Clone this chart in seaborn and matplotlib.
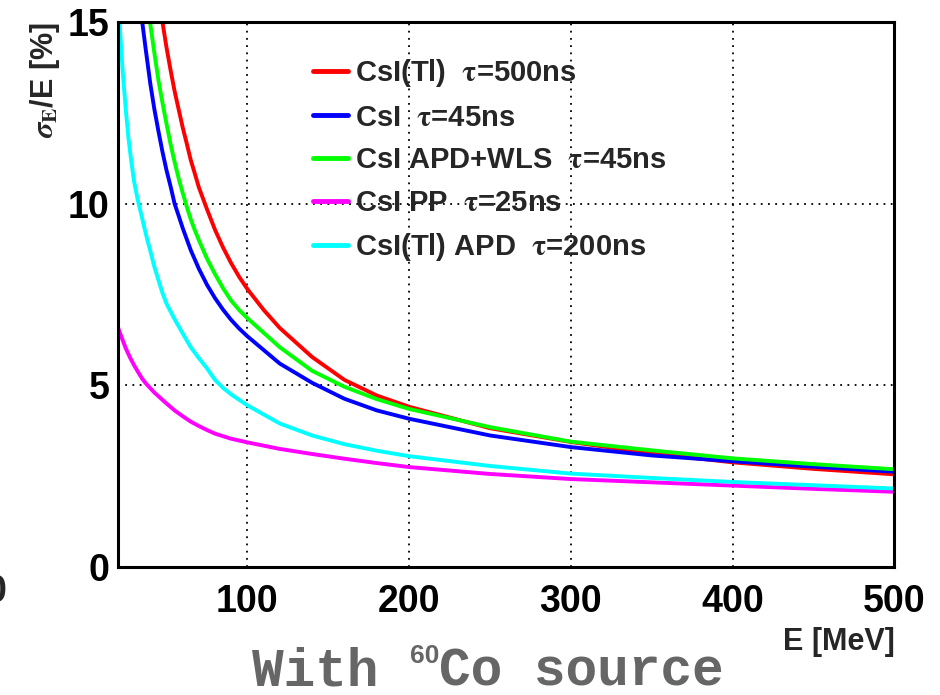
import matplotlib
matplotlib.use("Agg")
import matplotlib.pyplot as plt
from matplotlib.ticker import MultipleLocator
import pandas as pd
import seaborn as sns

# Energy resolution curves (E in MeV, sigma_E/E in %)
red_E = [47.5, 50, 52.5, 55, 57.5, 60, 62.5, 65, 67.5, 70, 75, 80, 85, 90, 95, 100, 110, 120,
         140, 160, 180, 200, 250, 300, 350, 400, 450, 500]
red_v = [15.0, 14.3, 13.68, 13.1, 12.6, 12.1, 11.66, 11.2, 10.83, 10.45, 9.85, 9.28, 8.79, 8.36, 7.98, 7.65, 7.08, 6.58,
         5.78, 5.15, 4.72, 4.41, 3.82, 3.44, 3.13, 2.88, 2.70, 2.55]

blue_E = [35, 37, 40, 42.5, 45, 47.5, 50, 52.5, 55, 57.5, 60, 65, 70, 75, 80, 85, 90, 95, 100,
          120, 140, 160, 180, 200, 250, 300, 350, 400, 450, 500]
blue_v = [15.0, 14.3, 13.3, 12.6, 12.0, 11.43, 10.92, 10.48, 10.0, 9.67, 9.33, 8.72, 8.21, 7.77, 7.4, 7.08, 6.8, 6.56, 6.35,
          5.6, 5.07, 4.63, 4.31, 4.08, 3.62, 3.30, 3.07, 2.91, 2.76, 2.62]

green_E = [39.8, 42, 45, 47.5, 50, 52.5, 55, 57.5, 60, 62.5, 65, 67.5, 70, 75, 80, 85, 90, 95, 100,
           110, 120, 140, 160, 180, 200, 250, 300, 350, 400, 450, 500]
green_v = [15.0, 14.3, 13.4, 12.78, 12.2, 11.64, 11.15, 10.7, 10.3, 9.92, 9.57, 9.27, 9.0, 8.49, 8.06, 7.67, 7.33, 7.07, 6.85,
           6.45, 6.05, 5.40, 4.96, 4.62, 4.35, 3.85, 3.45, 3.21, 2.99, 2.83, 2.69]

magenta_E = [20, 21, 22, 23.5, 25, 27.5, 30, 32.5, 35, 37.5, 40, 42.5, 45, 47.5, 50, 55, 60, 65, 70, 75, 80, 90, 100,
             120, 140, 160, 180, 200, 250, 300, 350, 400, 450, 500]
magenta_v = [6.6, 6.47, 6.35, 6.17, 6.0, 5.76, 5.55, 5.36, 5.18, 5.04, 4.92, 4.8, 4.7, 4.6, 4.5, 4.31, 4.15, 4.0, 3.88, 3.77, 3.67, 3.53, 3.43,
             3.25, 3.11, 2.98, 2.86, 2.75, 2.56, 2.42, 2.33, 2.24, 2.15, 2.07]

cyan_E = [21, 22, 23, 24, 25, 26.5, 28, 30, 32, 34.5, 36, 38, 40, 42.5, 45, 47.5, 50, 55, 60, 65, 70, 75, 80, 85, 90, 100,
          120, 140, 160, 180, 200, 250, 300, 350, 400, 450, 500]
cyan_v = [15.0, 14.27, 13.6, 13.04, 12.5, 11.8, 11.25, 10.6, 10.15, 9.68, 9.4, 9.03, 8.7, 8.26, 7.9, 7.54, 7.25, 6.82, 6.43, 6.05, 5.75, 5.47, 5.15, 4.93, 4.75, 4.45,
          3.95, 3.62, 3.38, 3.2, 3.05, 2.78, 2.57, 2.45, 2.34, 2.25, 2.16]

labels = [r"CsI(Tl)  $\mathrm{\tau}$=500ns",
          r"CsI  $\mathrm{\tau}$=45ns",
          r"CsI APD+WLS  $\mathrm{\tau}$=45ns",
          r"CsI PP  $\mathrm{\tau}$=25ns",
          r"CsI(Tl) APD  $\mathrm{\tau}$=200ns"]
colors = ["#ff0000", "#0000ff", "#00ff00", "#ff00ff", "#00ffff"]
series = [(red_E, red_v), (blue_E, blue_v), (green_E, green_v),
          (magenta_E, magenta_v), (cyan_E, cyan_v)]

sns.set_theme(style="white")
plt.rcParams["font.family"] = ["Liberation Sans", "DejaVu Sans"]
plt.rcParams["font.weight"] = "bold"
plt.rcParams["mathtext.fontset"] = "stix"

fig = plt.figure(figsize=(9.4, 6.95), dpi=100)
ax = fig.add_axes([0.1255, 0.1842, 0.826, 0.7841])

for (xs, ys), lab, col in zip(series, labels, colors):
    df = pd.DataFrame({"E": xs, "res": ys})
    sns.lineplot(data=df, x="E", y="res", ax=ax, color=col, linewidth=2.8,
                 label=lab, estimator=None, sort=False)

ax.set_xlim(20, 500)
ax.set_ylim(0, 15)
ax.xaxis.set_major_locator(MultipleLocator(100))
ax.xaxis.set_minor_locator(MultipleLocator(20))
ax.yaxis.set_major_locator(MultipleLocator(5))
ax.yaxis.set_minor_locator(MultipleLocator(1))
ax.tick_params(axis="both", which="both", direction="in", top=False, right=False,
               colors="black", labelsize=27)
ax.tick_params(axis="both", which="major", length=14, width=1.5)
ax.tick_params(axis="both", which="minor", length=7, width=1.5)
ax.tick_params(axis="x", which="major", pad=12)
ax.tick_params(axis="y", which="major", pad=6)
for t in ax.get_xticklabels() + ax.get_yticklabels():
    t.set_fontweight("bold")

ax.grid(True, which="major", color="black", linestyle=(0, (1, 3)), linewidth=1.3)
for s in ax.spines.values():
    s.set_color("black")
    s.set_linewidth(2.2)

ax.set_xlabel("E [MeV]", fontsize=22, fontweight="bold", loc="right")
ax.xaxis.set_label_coords(1.0, -0.11)
ax.set_ylabel(r"$\sigma_{\mathsf{E}}$/E [%]", fontsize=22, fontweight="bold", loc="top")
ax.yaxis.set_label_coords(-0.072, 1.0)

leg = ax.legend(loc="upper left", bbox_to_anchor=(313 / 940, 1 - 57 / 695),
                bbox_transform=fig.transFigure, frameon=False,
                prop={"weight": "bold", "size": 21},
                handlelength=1.2, handletextpad=0.25, labelspacing=0.5,
                borderpad=0, borderaxespad=0)
for line in leg.get_lines():
    line.set_linewidth(3.5)

fig.text(6 / 940, 1 - 592 / 695, "0", ha="right", va="center",
         fontsize=27, fontweight="bold")

# Caption below the frame: "With", a raised "60", then "Co source"
renderer = fig.canvas.get_renderer()
cap_y = 1 - 685 / 695
mono = ["Liberation Mono", "DejaVu Sans Mono"]
t1 = fig.text(0.0, cap_y, "With ", ha="left", va="baseline", fontsize=38,
              fontweight="bold", color="#666666", family=mono)
t2 = fig.text(0.0, cap_y + 0.032, "60", ha="left", va="baseline", fontsize=19,
              fontweight="bold", color="#666666")
t3 = fig.text(0.0, cap_y, "Co source", ha="left", va="baseline", fontsize=38,
              fontweight="bold", color="#666666", family=mono)
inv = fig.transFigure.inverted()
w1 = inv.transform(t1.get_window_extent(renderer))
w2 = inv.transform(t2.get_window_extent(renderer))
w3 = inv.transform(t3.get_window_extent(renderer))
total = (w1[1][0] - w1[0][0]) + (w2[1][0] - w2[0][0]) + (w3[1][0] - w3[0][0])
x0 = 488 / 940 - total / 2
t1.set_x(x0)
x1 = x0 + (w1[1][0] - w1[0][0])
t2.set_x(x1)
t3.set_x(x1 + (w2[1][0] - w2[0][0]))

fig.savefig("out.png", dpi=100)
